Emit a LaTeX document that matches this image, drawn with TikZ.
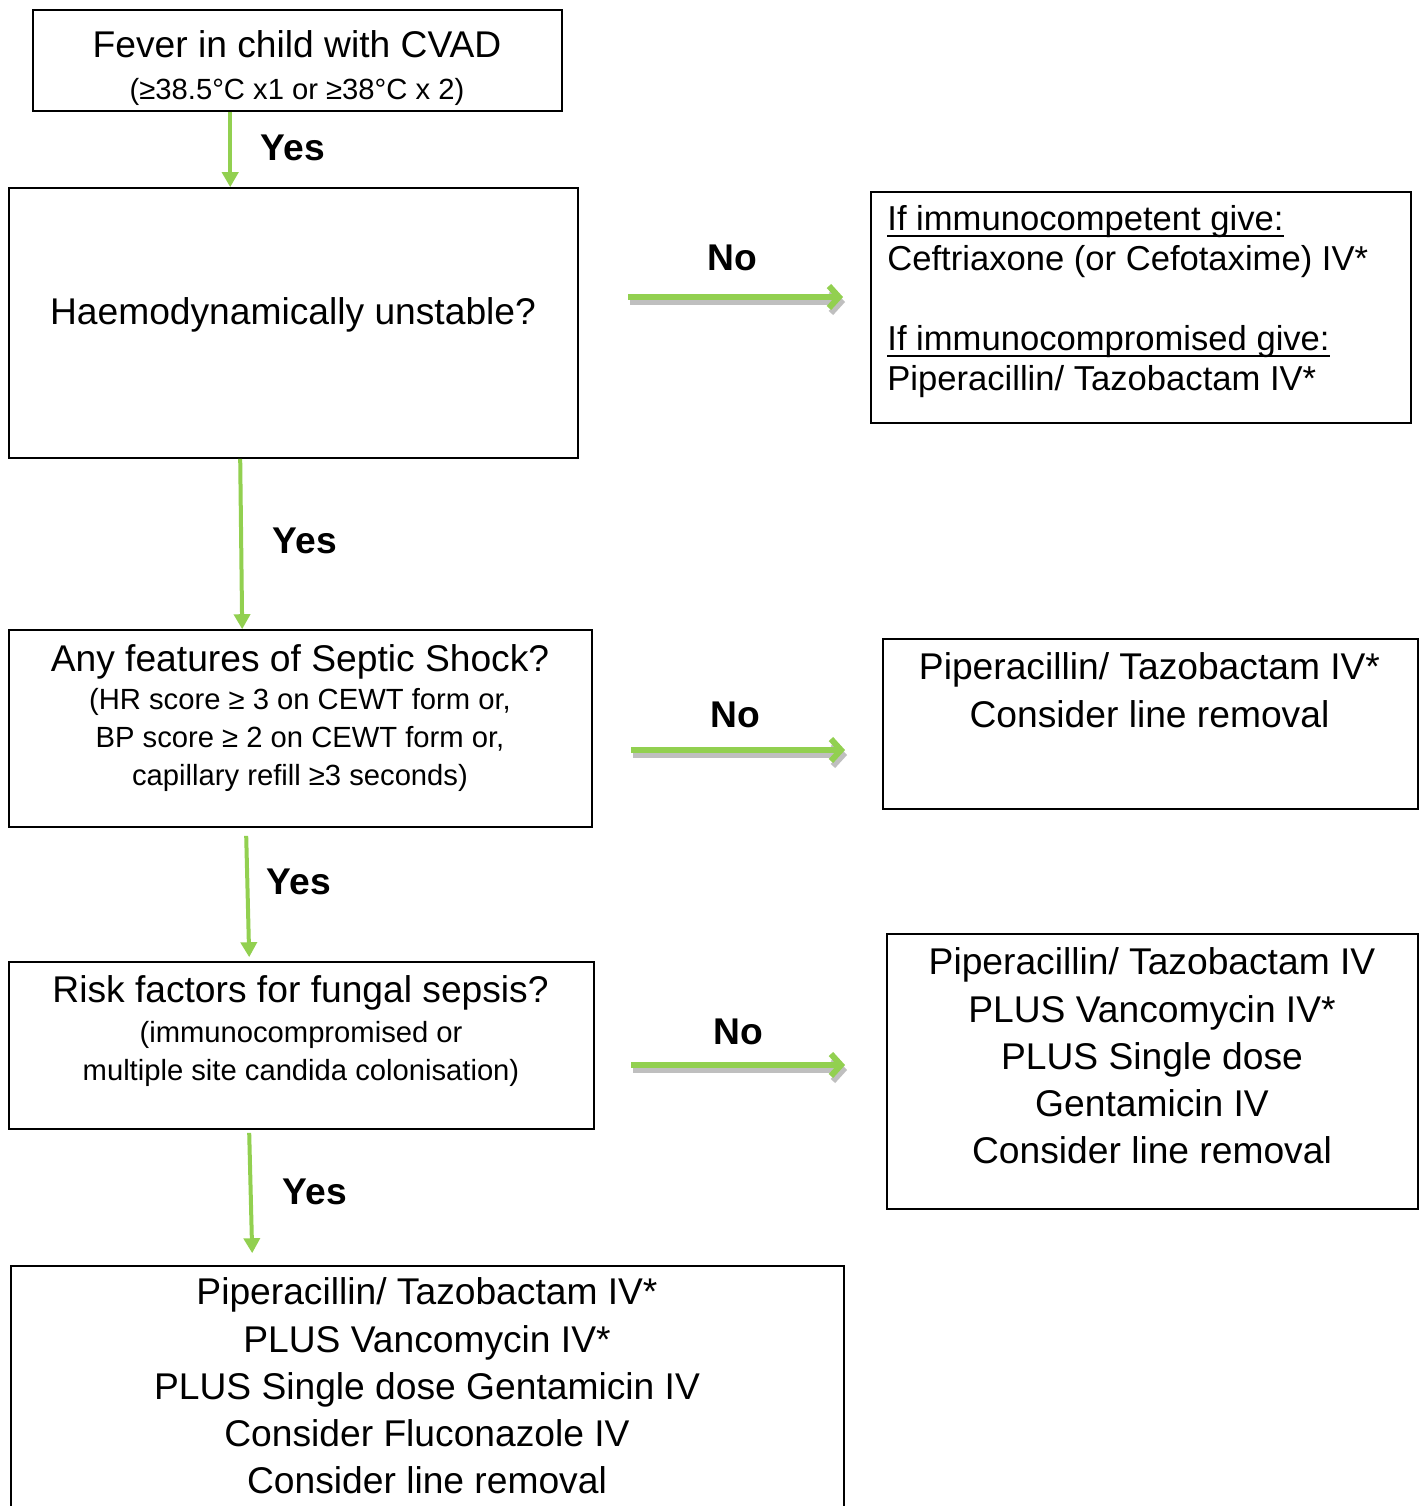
\documentclass[tikz,border=0pt]{standalone}
\usepackage{fontspec}
\setmainfont{Liberation Sans}
\usetikzlibrary{arrows.meta,fit,calc}
\definecolor{arrgreen}{HTML}{92D050}
\definecolor{shadowgray}{HTML}{BFBFBF}
\newcommand{\myul}[1]{\leavevmode\setbox0\hbox{#1}\rlap{\rule[-2.8pt]{\wd0}{1pt}}\box0}
\begin{document}
\begin{tikzpicture}[x=0.5pt,y=-0.5pt,
  box/.style={draw=black,line width=0.8pt,inner sep=0pt,rectangle},
  big/.style={inner sep=0pt,anchor=north,align=center,font=\fontsize{18.6pt}{23.6pt}\selectfont},
  small/.style={inner sep=0pt,anchor=north,align=center,font=\fontsize{14.6pt}{19pt}\selectfont},
  lbl/.style={inner sep=0pt,font=\fontsize{18.6pt}{22pt}\selectfont\bfseries},
  yesarrow/.style={draw=arrgreen,line width=2pt,-{Triangle[length=7.5pt,width=8pt]},fill=arrgreen},
  noarrow/.style={draw=arrgreen,line width=3pt,-{Straight Barb[length=5pt,width=11pt,line width=3pt]}},
  noshadow/.style={draw=shadowgray,line width=3pt,-{Straight Barb[length=5pt,width=11pt,line width=3pt]}}
]
\useasboundingbox (0,0) rectangle (1422,1506);
\fill[white] (0,0) rectangle (1422,1506);

% boxes
\node[box, fit={(33,10)(562,111)}] (b1) {};
\node[box, fit={(9,188)(578,458)}] (b2) {};
\node[box, fit={(9,630)(592,827)}] (b3) {};
\node[box, fit={(9,962)(594,1129)}] (b4) {};
\node[box, fit={(11,1266)(844,1520)}] (b5) {};
\node[box, fit={(871,192)(1411,423)}] (r1) {};
\node[box, fit={(883,639)(1418,809)}] (r2) {};
\node[box, fit={(887,934)(1418,1209)}] (r3) {};

% texts
\node[big] (t1) at (297,30) {Fever in child with CVAD};
\node[small] (t1b) at (297,77.5) {(≥38.5°C x1 or ≥38°C x 2)};
\node[big] (t2) at (293,297) {Haemodynamically unstable?};
\node[big] (t3) at (300,644) {Any features of Septic Shock?};
\node[small] (t3b) at (300,687.5) {(HR score ≥ 3 on CEWT form or,\\BP score ≥ 2 on CEWT form or,\\capillary refill ≥3 seconds)};
\node[big] (t4) at (300.5,975) {Risk factors for fungal sepsis?};
\node[small] (t4b) at (301,1020.5) {(immunocompromised or\\multiple site candida colonisation)};
\node[big] (t5) at (427,1277.6) {Piperacillin/ Tazobactam IV*\\PLUS Vancomycin IV*\\PLUS Single dose Gentamicin IV\\Consider Fluconazole IV\\Consider line removal};
\node[big,anchor=north west,align=left,font=\fontsize{17.3pt}{20pt}\selectfont] (tr1) at (887,205.5) {\myul{If immunocompetent give:}\\Ceftriaxone (or Cefotaxime) IV*\\[20pt]\myul{If immunocompromised give:}\\Piperacillin/ Tazobactam IV*};
\node[big,font=\fontsize{18.6pt}{24pt}\selectfont] (tr2) at (1149.5,652.6) {Piperacillin/ Tazobactam IV*\\Consider line removal};
\node[big] (tr3) at (1152,947.6) {Piperacillin/ Tazobactam IV\\PLUS Vancomycin IV*\\PLUS Single dose\\Gentamicin IV\\Consider line removal};

% yes arrows
\draw[yesarrow] ($(b1.south west)+(198,0)$) -- ($(b2.north west)+(222,0)$);
\draw[yesarrow] ($(b2.south west)+(232,0)$) -- ($(b3.north west)+(234,0)$);
\draw[yesarrow] ($(b3.south west)+(238,8)$) -- ($(b4.north west)+(241,-4)$);
\draw[yesarrow] ($(b4.south west)+(241,3)$) -- ($(b5.north west)+(242,-12)$);
\node[lbl] (y1) at (293,148) {Yes};
\node[lbl] (y2) at (305,541) {Yes};
\node[lbl] (y3) at (299,882) {Yes};
\node[lbl] (y4) at (315,1192) {Yes};

% no arrows
\coordinate (n1s) at (628,297); \coordinate (n1e) at (843,297);
\coordinate (n2s) at (631,750); \coordinate (n2e) at (845,750);
\coordinate (n3s) at (631,1065); \coordinate (n3e) at (845,1065);
\foreach \a/\b in {n1s/n1e,n2s/n2e,n3s/n3e}{
  \draw[noshadow] ([shift={(2,5)}]\a) -- ([shift={(2,5)}]\b);
  \draw[noarrow] (\a) -- (\b);
}
\node[lbl] (no1) at (732,258) {No};
\node[lbl] (no2) at (735,715) {No};
\node[lbl] (no3) at (738,1032) {No};
\end{tikzpicture}
\end{document}
